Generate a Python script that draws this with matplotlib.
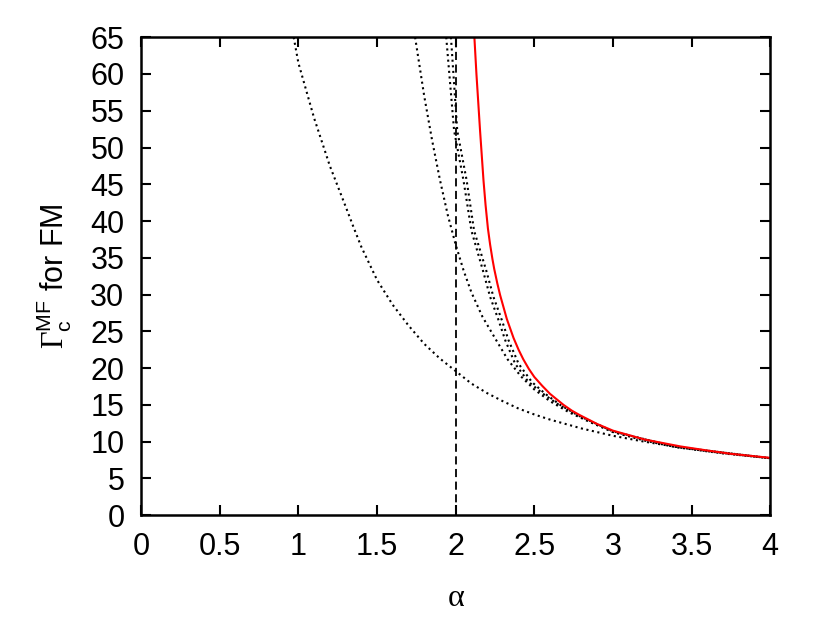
import matplotlib
matplotlib.use('Agg')
import matplotlib.pyplot as plt

# Red curve
red_alpha = [2.119, 2.132, 2.144, 2.155, 2.177, 2.19, 2.205, 2.219, 2.234, 2.245, 2.265,
             2.283, 2.325, 2.368, 2.40, 2.43, 2.465, 2.50, 2.55, 2.60, 2.64, 2.686,
             2.74, 2.79, 2.90, 3.0, 3.2, 3.43, 3.6, 3.75, 4.0]
red_gamma = [65.0, 60.0, 56.0, 52.3, 45.5, 42.2, 39.0, 36.8, 34.8, 33.5, 31.5,
             29.9, 26.7, 24.1, 22.5, 21.2, 19.9, 18.8, 17.6, 16.5, 15.8, 15.0,
             14.2, 13.6, 12.4, 11.5, 10.3, 9.35, 8.8, 8.35, 7.8]

# Dotted curve 1 (leftmost)
d1_alpha = [0.97, 1.0, 1.1, 1.2, 1.3, 1.35, 1.4, 1.5, 1.6, 1.7, 1.8, 1.9, 2.0,
            2.1, 2.2, 2.3, 2.4, 2.5, 2.6, 2.7, 2.8, 3.0, 3.2, 3.4, 3.6, 3.8, 4.0]
d1_gamma = [65.0, 61.5, 54.0, 47.5, 42.0, 39.2, 36.5, 32.0, 28.6, 25.8, 23.3, 21.3, 19.6,
            17.9, 16.6, 15.5, 14.5, 13.7, 13.0, 12.4, 11.8, 10.8, 10.0, 9.3, 8.7, 8.2, 7.75]

# Dotted curve 2
d2_alpha = [1.742, 1.8, 1.85, 1.9, 1.95, 2.0, 2.05, 2.1, 2.17, 2.255, 2.33, 2.414,
            2.5, 2.6, 2.72, 2.85, 3.0, 3.2, 3.4, 3.7, 4.0]
d2_gamma = [65.0, 57.0, 51.0, 45.6, 40.8, 36.8, 33.3, 30.3, 27.0, 23.9, 21.2, 18.9,
            17.1, 15.5, 14.0, 12.7, 11.3, 10.15, 9.25, 8.4, 7.75]

# Dotted curves 3 and 4 (close together)
d3_alpha = [1.94, 1.99, 2.05, 2.10, 2.173, 2.219, 2.273, 2.315, 2.378, 2.46,
            2.55, 2.65, 2.78, 3.0, 3.4, 4.0]
d3_gamma = [65.0, 52.3, 45.5, 38.7, 33.3, 29.7, 26.5, 23.8, 20.6, 18.2,
            16.6, 15.1, 13.5, 11.35, 9.3, 7.75]
d4_alpha = [1.97, 2.01, 2.07, 2.117, 2.194, 2.24, 2.294, 2.336, 2.40, 2.485,
            2.57, 2.665, 2.78, 3.0, 3.4, 4.0]
d4_gamma = [65.0, 52.3, 45.5, 38.7, 33.3, 29.7, 26.5, 23.8, 20.6, 18.1,
            16.5, 15.0, 13.55, 11.4, 9.3, 7.75]

# Vertical dashed marker
alpha_mark = 2.0

x_ticks = [0, 0.5, 1, 1.5, 2, 2.5, 3, 3.5, 4]
x_labels = ['0', '0.5', '1', '1.5', '2', '2.5', '3', '3.5', '4']
y_ticks = list(range(0, 66, 5))


def main():
    plt.rcParams['font.family'] = ['Liberation Sans', 'DejaVu Sans']
    plt.rcParams['mathtext.fontset'] = 'custom'
    plt.rcParams['mathtext.rm'] = 'Liberation Serif'
    plt.rcParams['mathtext.sf'] = 'Liberation Sans'

    fig = plt.figure(figsize=(8.3, 6.2), dpi=100)
    ax = fig.add_axes([0.170, 0.169, 0.758, 0.771])

    dotted = (0, (1, 1.7))
    for a, g in [(d1_alpha, d1_gamma), (d2_alpha, d2_gamma),
                 (d3_alpha, d3_gamma), (d4_alpha, d4_gamma)]:
        ax.plot(a, g, color='black', lw=1.5, linestyle=dotted)

    ax.axvline(alpha_mark, color='black', lw=1.3, linestyle=(0, (4.5, 2.5)))
    ax.plot(red_alpha, red_gamma, color='red', lw=1.5)

    ax.set_xlim(0, 4)
    ax.set_ylim(0, 65)
    ax.set_xticks(x_ticks)
    ax.set_xticklabels(x_labels)
    ax.set_yticks(y_ticks)

    ax.tick_params(direction='in', length=7, width=1.5, labelsize=22,
                   top=True, right=True)
    ax.tick_params(axis='x', pad=12)
    ax.tick_params(axis='y', pad=12)
    for s in ax.spines.values():
        s.set_linewidth(1.8)

    ax.set_xlabel('α', fontsize=23, family='Liberation Serif', labelpad=16)
    ax.set_ylabel(r'$\Gamma_{\mathsf{c}}^{\mathsf{MF}}$ for FM', fontsize=22, labelpad=12)

    fig.savefig('out.png', dpi=100)


if __name__ == "__main__":
    main()
